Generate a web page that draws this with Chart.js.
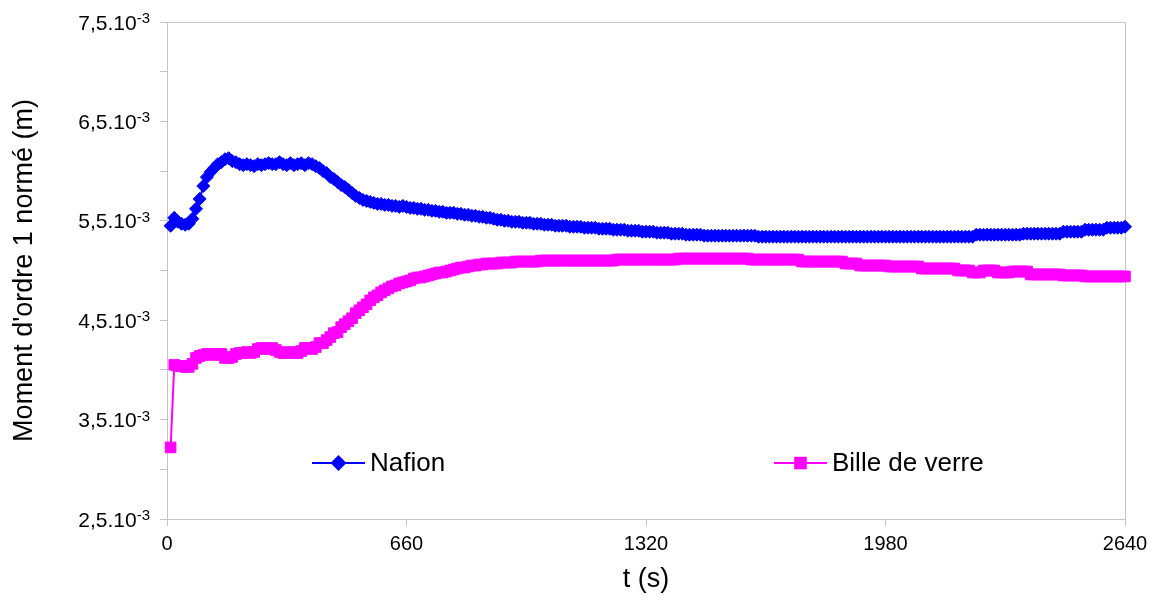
<!DOCTYPE html>
<html>
<head>
<meta charset="utf-8">
<script src="https://cdn.jsdelivr.net/npm/chart.js@4/dist/chart.umd.min.js"></script>
<style>
  html, body { margin: 0; padding: 0; background: #ffffff; }
  #wrap { width: 1162px; height: 601px; }
</style>
</head>
<body>
<div id="wrap"><canvas id="c" width="1162" height="601"></canvas></div>
<script>
// ---- data (time in s, values in 10^-3 m) ----
const seriesNames = ['Nafion', 'Bille de verre'];
const xTickValues = [0, 660, 1320, 1980, 2640];
const yTitle = "Moment d'ordre 1 normé (m)";
const xTitle = 't (s)';

const times = [
  10,20,30,40,50,60,70,80,90,100,
  110,120,130,140,150,160,170,180,190,200,
  210,220,230,240,250,260,270,280,290,300,
  310,320,330,340,350,360,370,380,390,400,
  410,420,430,440,450,460,470,480,490,500,
  510,520,530,540,550,560,570,580,590,600,
  610,620,630,640,650,660,670,680,690,700,
  710,720,730,740,750,760,770,780,790,800,
  810,820,830,840,850,860,870,880,890,900,
  910,920,930,940,950,960,970,980,990,1000,
  1010,1020,1030,1040,1050,1060,1070,1080,1090,1100,
  1110,1120,1130,1140,1150,1160,1170,1180,1190,1200,
  1210,1220,1230,1240,1250,1260,1270,1280,1290,1300,
  1310,1320,1330,1340,1350,1360,1370,1380,1390,1400,
  1410,1420,1430,1440,1450,1460,1470,1480,1490,1500,
  1510,1520,1530,1540,1550,1560,1570,1580,1590,1600,
  1610,1620,1630,1640,1650,1660,1670,1680,1690,1700,
  1710,1720,1730,1740,1750,1760,1770,1780,1790,1800,
  1810,1820,1830,1840,1850,1860,1870,1880,1890,1900,
  1910,1920,1930,1940,1950,1960,1970,1980,1990,2000,
  2010,2020,2030,2040,2050,2060,2070,2080,2090,2100,
  2110,2120,2130,2140,2150,2160,2170,2180,2190,2200,
  2210,2220,2230,2240,2250,2260,2270,2280,2290,2300,
  2310,2320,2330,2340,2350,2360,2370,2380,2390,2400,
  2410,2420,2430,2440,2450,2460,2470,2480,2490,2500,
  2510,2520,2530,2540,2550,2560,2570,2580,2590,2600,
  2610,2620,2630,2640
];

const nafion = [
  5.45,5.53,5.49,5.47,5.46,5.47,5.52,5.62,5.72,5.85,
  5.94,5.99,6.03,6.07,6.09,6.12,6.13,6.10,6.09,6.07,
  6.06,6.07,6.06,6.05,6.07,6.06,6.07,6.08,6.07,6.07,
  6.09,6.07,6.06,6.08,6.06,6.07,6.08,6.06,6.08,6.07,
  6.05,6.03,6.00,5.98,5.94,5.92,5.89,5.86,5.84,5.81,
  5.78,5.75,5.73,5.71,5.70,5.69,5.68,5.67,5.67,5.66,
  5.66,5.65,5.65,5.64,5.65,5.64,5.63,5.63,5.62,5.62,
  5.61,5.61,5.60,5.60,5.59,5.59,5.58,5.58,5.58,5.57,
  5.57,5.56,5.56,5.55,5.55,5.54,5.54,5.53,5.53,5.52,
  5.51,5.51,5.50,5.50,5.49,5.49,5.49,5.48,5.48,5.48,
  5.47,5.47,5.47,5.46,5.46,5.46,5.45,5.45,5.45,5.45,
  5.44,5.44,5.44,5.44,5.43,5.43,5.43,5.43,5.42,5.42,
  5.42,5.42,5.41,5.41,5.41,5.41,5.40,5.40,5.40,5.40,
  5.39,5.39,5.39,5.39,5.38,5.38,5.38,5.38,5.37,5.37,
  5.37,5.37,5.36,5.36,5.36,5.36,5.36,5.35,5.35,5.35,
  5.35,5.35,5.35,5.35,5.35,5.35,5.35,5.35,5.35,5.35,
  5.35,5.35,5.34,5.34,5.34,5.34,5.34,5.34,5.34,5.34,
  5.34,5.34,5.34,5.34,5.34,5.34,5.34,5.34,5.34,5.34,
  5.34,5.34,5.34,5.34,5.34,5.34,5.34,5.34,5.34,5.34,
  5.34,5.34,5.34,5.34,5.34,5.34,5.34,5.34,5.34,5.34,
  5.34,5.34,5.34,5.34,5.34,5.34,5.34,5.34,5.34,5.34,
  5.34,5.34,5.34,5.34,5.34,5.34,5.34,5.34,5.34,5.34,
  5.34,5.34,5.36,5.36,5.36,5.36,5.36,5.36,5.36,5.36,
  5.36,5.36,5.36,5.36,5.36,5.37,5.37,5.37,5.37,5.37,
  5.37,5.37,5.37,5.37,5.37,5.37,5.39,5.39,5.39,5.39,
  5.39,5.39,5.41,5.41,5.41,5.41,5.41,5.41,5.43,5.43,
  5.43,5.43,5.43,5.44
];

const billeDeVerre = [
  3.22,4.05,4.04,4.04,4.03,4.03,4.06,4.12,4.14,4.15,
  4.16,4.16,4.15,4.16,4.16,4.12,4.12,4.13,4.16,4.17,
  4.17,4.18,4.17,4.18,4.21,4.22,4.22,4.21,4.22,4.20,
  4.18,4.17,4.17,4.18,4.17,4.17,4.19,4.22,4.22,4.21,
  4.23,4.27,4.27,4.30,4.33,4.37,4.38,4.43,4.46,4.49,
  4.52,4.57,4.60,4.63,4.66,4.70,4.73,4.75,4.78,4.80,
  4.82,4.84,4.85,4.87,4.88,4.89,4.90,4.92,4.93,4.93,
  4.94,4.95,4.96,4.97,4.98,4.98,4.99,5.00,5.01,5.02,
  5.03,5.03,5.04,5.05,5.05,5.06,5.06,5.07,5.07,5.07,
  5.07,5.08,5.08,5.08,5.08,5.09,5.09,5.09,5.09,5.09,
  5.09,5.09,5.10,5.10,5.10,5.10,5.10,5.10,5.10,5.10,
  5.10,5.10,5.10,5.10,5.10,5.10,5.10,5.10,5.10,5.10,
  5.10,5.10,5.10,5.11,5.11,5.11,5.11,5.11,5.11,5.11,
  5.11,5.11,5.11,5.11,5.11,5.11,5.11,5.11,5.11,5.11,
  5.12,5.12,5.12,5.12,5.12,5.12,5.12,5.12,5.12,5.12,
  5.12,5.12,5.12,5.12,5.12,5.12,5.12,5.12,5.12,5.12,
  5.11,5.11,5.11,5.11,5.11,5.11,5.11,5.11,5.11,5.11,
  5.11,5.11,5.11,5.11,5.09,5.09,5.09,5.09,5.09,5.09,
  5.09,5.09,5.09,5.09,5.09,5.09,5.07,5.07,5.07,5.07,
  5.05,5.05,5.05,5.05,5.05,5.05,5.05,5.05,5.04,5.04,
  5.04,5.04,5.04,5.04,5.04,5.04,5.04,5.02,5.02,5.02,
  5.02,5.02,5.02,5.02,5.02,5.02,5.02,5.00,5.00,5.00,
  5.00,4.98,4.98,4.98,5.00,5.00,5.00,5.00,4.98,4.98,
  4.98,4.98,4.99,4.99,4.99,4.99,4.99,4.96,4.96,4.96,
  4.96,4.96,4.96,4.96,4.96,4.96,4.95,4.95,4.95,4.95,
  4.95,4.95,4.94,4.94,4.94,4.94,4.94,4.94,4.94,4.94,
  4.94,4.94,4.94,4.94
];

// ---- chart ----
const FONT = '"Liberation Sans", Arial, sans-serif';
const GRAY = '#c4c4c4';

function toPoints(xs, ys) { return xs.map((t, i) => ({ x: t, y: ys[i] })); }

const frameAndText = {
  id: 'frameAndText',
  beforeDatasetsDraw(chart) {
    const { ctx, chartArea: a } = chart;
    ctx.save();
    ctx.strokeStyle = GRAY;
    ctx.lineWidth = 1;
    ctx.strokeRect(Math.round(a.left) + 0.5, Math.round(a.top) + 0.5,
                   Math.round(a.right - a.left), Math.round(a.bottom - a.top));
    ctx.restore();
  },
  afterDraw(chart) {
    const { ctx, scales: { y } } = chart;
    ctx.save();
    ctx.fillStyle = '#000';
    // y tick labels with superscript exponent
    y.ticks.forEach(tk => {
      const v = tk.value;
      if (Math.abs(((v * 2) % 2) - 1) > 1e-6) return;
      const py = y.getPixelForValue(v);
      const main = v.toFixed(1).replace('.', ',') + '.10';
      const right = 150;
      ctx.textAlign = 'right';
      ctx.textBaseline = 'alphabetic';
      ctx.font = '15px ' + FONT;
      const supW = ctx.measureText('-3').width;
      ctx.fillText('-3', right, py + 1);
      ctx.font = '21px ' + FONT;
      ctx.fillText(main, right - supW, py + 7.5);
    });
    // legend inside plot
    const slots = [312, 774];
    const ly = 463;
    chart.data.datasets.forEach((ds, i) => {
      const x0 = slots[i];
      ctx.strokeStyle = ds.borderColor;
      ctx.lineWidth = 2;
      ctx.beginPath();
      ctx.moveTo(x0, ly);
      ctx.lineTo(x0 + 53, ly);
      ctx.stroke();
      ctx.fillStyle = ds.pointBackgroundColor;
      ctx.strokeStyle = ds.pointBorderColor;
      Chart.helpers.drawPoint(ctx, { pointStyle: ds.pointStyle, radius: ds.pointRadius, rotation: 0, borderWidth: 1 }, x0 + 26.5, ly);
      ctx.fillStyle = '#000';
      ctx.font = '26px ' + FONT;
      ctx.textAlign = 'left';
      ctx.textBaseline = 'middle';
      ctx.fillText(ds.label, x0 + 58, ly + 1);
    });
    ctx.restore();
  }
};

new Chart(document.getElementById('c'), {
  type: 'line',
  data: {
    datasets: [
      {
        label: seriesNames[0],
        data: toPoints(times, nafion),
        borderColor: '#0000FF',
        backgroundColor: '#0000FF',
        pointBackgroundColor: '#0000FF',
        pointBorderColor: '#0000FF',
        pointStyle: 'rectRot',
        pointRadius: 6.5,
        pointBorderWidth: 1,
        borderWidth: 2,
        tension: 0,
        clip: false
      },
      {
        label: seriesNames[1],
        data: toPoints(times, billeDeVerre),
        borderColor: '#FF00FF',
        backgroundColor: '#FF00FF',
        pointBackgroundColor: '#FF00FF',
        pointBorderColor: '#FF00FF',
        pointStyle: 'rect',
        pointRadius: 7.5,
        pointBorderWidth: 1,
        borderWidth: 2,
        tension: 0,
        clip: false
      }
    ]
  },
  options: {
    responsive: false,
    animation: false,
    devicePixelRatio: 1,
    layout: { padding: { left: 0, right: 37, top: 22, bottom: 0 } },
    plugins: {
      legend: { display: false },
      tooltip: { enabled: false },
      title: { display: false }
    },
    scales: {
      x: {
        type: 'linear',
        min: 0,
        max: 2640,
        afterBuildTicks(scale) { scale.ticks = xTickValues.map(v => ({ value: v })); },
        afterFit(scale) { scale.height = 82; },
        grid: { drawOnChartArea: false, drawTicks: true, tickLength: 7, color: GRAY },
        border: { display: true, color: GRAY },
        ticks: { color: '#000', font: { family: FONT, size: 20 }, padding: 6, maxRotation: 0, autoSkip: false,
                 callback: v => String(v) },
        title: { display: true, text: xTitle, color: '#000', font: { family: FONT, size: 27 }, padding: { top: 0, bottom: 5 } }
      },
      y: {
        type: 'linear',
        min: 2.5,
        max: 7.5,
        afterFit(scale) { scale.width = 167; },
        grid: { drawOnChartArea: false, drawTicks: true, tickLength: 7, color: GRAY },
        border: { display: true, color: GRAY },
        ticks: { stepSize: 0.5, callback: () => '', font: { family: FONT, size: 20 } },
        title: { display: true, text: yTitle, color: '#000', font: { family: FONT, size: 27 }, padding: { top: 8, bottom: 0 } }
      }
    }
  },
  plugins: [frameAndText]
});
</script>
</body>
</html>
